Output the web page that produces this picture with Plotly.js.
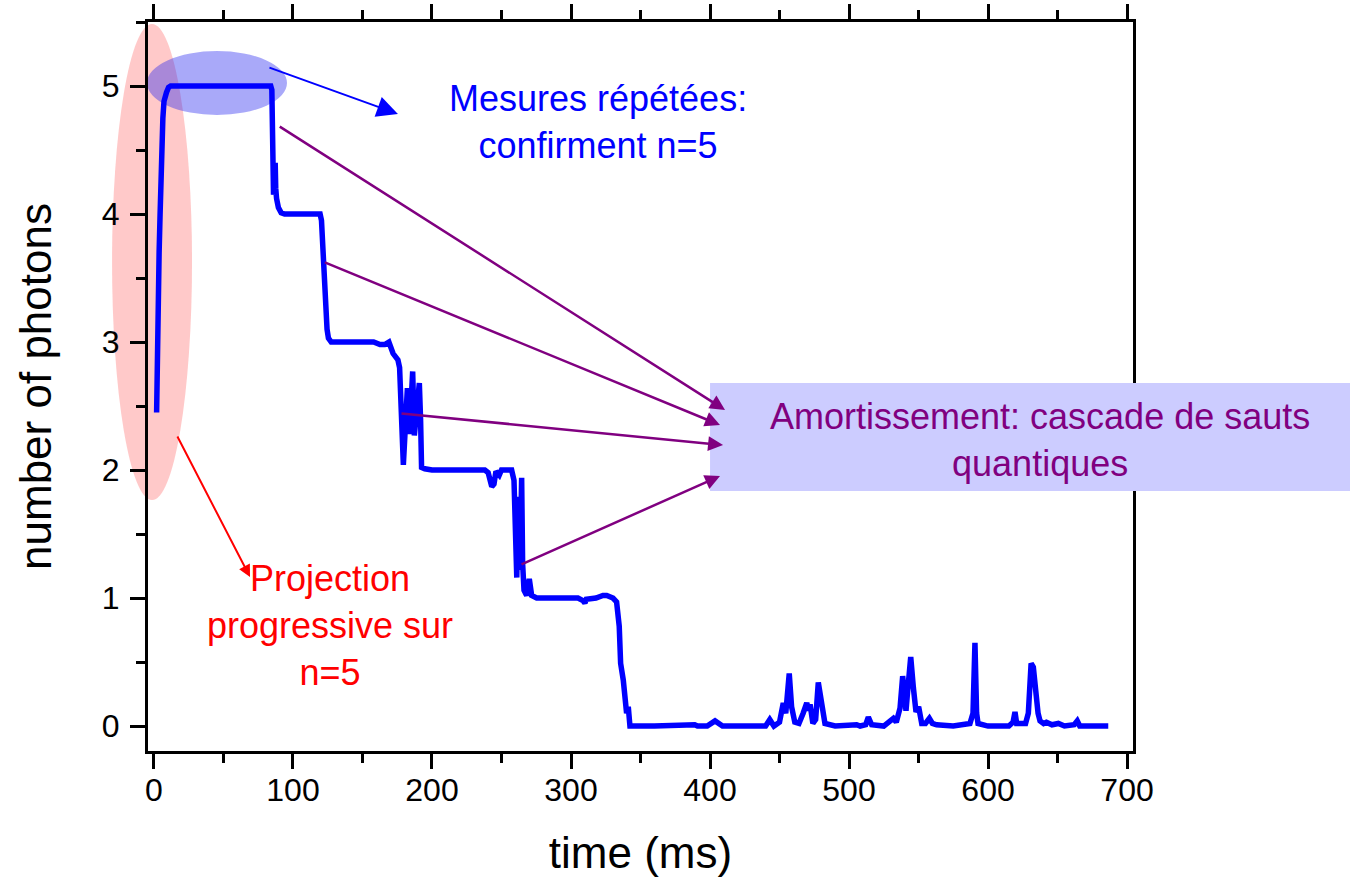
<!DOCTYPE html>
<html>
<head>
<meta charset="utf-8">
<script src="https://cdn.plot.ly/plotly-3.0.1.min.js"></script>
<style>
  html, body { margin: 0; padding: 0; background: #ffffff; }
  #chart { width: 1350px; height: 882px; }
</style>
</head>
<body>
<div id="chart"></div>
<script>
// Photon number in the cavity versus time (ms): projection onto n=5, then step-wise decay.
const time_ms = [
  1.9, 2.3, 2.8, 3.2, 3.7, 4.4, 5.0, 5.6, 6.4, 7.2, 8.0, 9.0, 10.5, 12.0,
  20, 30, 38, 45, 55, 64, 70, 78, 84.0,
  84.8, 85.2, 85.6, 86.0, 86.8, 87.2, 87.6, 88.2, 89.5, 91.5, 94,
  100, 108, 114, 119.5,
  120.5, 121.2, 121.8, 122.3, 122.8, 123.5, 124.5, 125.5, 127.5,
  135, 145, 152, 158, 162.6, 166, 169, 172, 175.5, 176.7,
  179.4, 180.6, 182.3, 183.8, 184.8, 186.1, 187.3, 189, 190.9, 191.8, 192.5, 194.8,
  200, 210, 220, 230, 238, 240.4, 243, 244.6, 246, 248.4, 250, 257.3,
  259, 261, 262.1, 263.3, 264.5, 265.2, 266.2, 268.1, 270, 271.7, 275.3,
  285, 295, 305, 308.6, 310, 311, 318, 323, 325.7, 330.2,
  332.8, 334.7, 335.7, 337.6, 338.8, 340, 341.2, 342.4,
  360, 380.6, 382, 389, 391, 398, 403.6, 409, 440, 443, 446,
  450, 452.7, 454.5, 457, 458.7, 461, 464, 467, 469.6, 471, 472, 474,
  476, 477.9, 480.4, 482.7, 490, 505.5, 508, 512, 513.9, 516.3, 525,
  531.9, 534, 536.7, 538.6, 540, 541, 542.4, 544.4, 546.3, 548.2, 550.1,
  552.3, 555, 557.8, 560, 563, 575, 587, 589.2, 590.6, 591.8, 592.8,
  600, 615, 618, 619.4, 620.6, 627, 629, 631, 632.6, 634.5, 636, 637.4,
  640, 642, 646, 650.6, 655, 662, 664.2, 666, 686.5
];
const photons = [
  2.45, 2.9, 3.3, 3.4, 3.7, 4.0, 4.3, 4.5, 4.75, 4.88, 4.92, 4.95, 4.99, 5.0,
  5.0, 5.0, 5.01, 5.0, 5.0, 5.01, 5.0, 5.0, 5.0,
  4.97, 4.7, 4.3, 4.15, 4.25, 4.4, 4.2, 4.12, 4.05, 4.01, 4.0,
  4.0, 4.0, 4.0, 4.0,
  3.95, 3.8, 3.6, 3.7, 3.5, 3.3, 3.1, 3.03, 3.0,
  3.0, 3.0, 2.99, 3.0, 2.98, 2.98, 3.0, 2.91, 2.86, 2.8,
  2.04, 2.39, 2.64, 2.28, 2.52, 2.77, 2.27, 2.52, 2.68, 2.39, 2.02, 2.01,
  2.0, 2.0, 2.0, 2.0, 2.0, 1.98, 1.87, 1.89, 1.99, 1.96, 2.0, 2.0,
  1.92, 1.16, 1.79, 1.22, 1.94, 1.27, 1.06, 1.02, 1.15, 1.02, 1.0,
  1.0, 1.0, 1.0, 0.98, 0.96, 0.99, 1.0, 1.02, 1.02, 1.0,
  0.97, 0.78, 0.49, 0.36, 0.18, 0.1, 0.15, 0.0,
  0.0, 0.01, 0.0, 0.01, 0.0, 0.0, 0.04, 0.0, 0.0, 0.05, 0.0,
  0.03, 0.18, 0.1, 0.41, 0.15, 0.03, 0.02, 0.1, 0.18, 0.12, 0.17, 0.02,
  0.05, 0.34, 0.2, 0.02, 0.0, 0.01, 0.0, 0.01, 0.07, 0.01, 0.0,
  0.06, 0.03, 0.14, 0.39, 0.22, 0.12, 0.3, 0.54, 0.3, 0.11, 0.15,
  0.02, 0.02, 0.06, 0.02, 0.01, 0.0, 0.02, 0.1, 0.65, 0.1, 0.02,
  0.0, 0.0, 0.03, 0.11, 0.02, 0.02, 0.1, 0.49, 0.46, 0.25, 0.1, 0.04,
  0.02, 0.03, 0.01, 0.02, 0.0, 0.01, 0.04, 0.0, 0.0
];
const xTicks = [0, 100, 200, 300, 400, 500, 600, 700];
const yTicks = [0, 1, 2, 3, 4, 5];

const FONT = 'Liberation Sans, Arial, Helvetica, sans-serif';
const BLUE = '#0000ff';
const RED = '#ff0000';
const PURPLE = '#800080';

const trace = {
  x: time_ms,
  y: photons,
  type: 'scatter',
  mode: 'lines',
  line: { color: BLUE, width: 5.5 },
  hoverinfo: 'x+y'
};

// Arrow helper: head at (x, y), tail at (ax, ay), both in data units.
function arrow(x, y, ax, ay, color, width, size) {
  return {
    x: x, y: y, ax: ax, ay: ay,
    xref: 'x', yref: 'y', axref: 'x', ayref: 'y',
    text: '', showarrow: true,
    arrowhead: 2, arrowsize: size, arrowwidth: width, arrowcolor: color,
    standoff: 0, startstandoff: 0
  };
}

function label(text, x, y, color) {
  return {
    text: text, x: x, y: y, xref: 'paper', yref: 'paper',
    xanchor: 'center', yanchor: 'middle', showarrow: false, align: 'center',
    font: { family: FONT, size: 36, color: color }
  };
}

const axisCommon = {
  showgrid: false, zeroline: false,
  showline: true, linecolor: '#000000', linewidth: 3,
  ticks: 'outside', ticklen: 15, tickwidth: 3, tickcolor: '#000000',
  tickfont: { family: FONT, size: 32, color: '#000000' }
};

const layout = {
  width: 1350, height: 882,
  margin: { l: 148, r: 217, t: 22, b: 131, pad: 0 },
  paper_bgcolor: '#ffffff', plot_bgcolor: '#ffffff',
  showlegend: false,
  xaxis: Object.assign({}, axisCommon, {
    range: [-4.3, 704.3], tickvals: xTicks, mirror: 'ticks',
    ticklabelstandoff: -6,
    minor: { dtick: 50, tick0: 0, ticks: 'outside', ticklen: 9, tickwidth: 3, tickcolor: '#000000', showgrid: false },
    title: { text: 'time (ms)', font: { family: FONT, size: 44, color: '#000000' }, standoff: 30 }
  }),
  yaxis: Object.assign({}, axisCommon, {
    range: [-0.195, 5.5], tickvals: yTicks, mirror: true,
    ticklabelstandoff: 4,
    minor: { dtick: 0.5, tick0: 0, ticks: 'outside', ticklen: 9, tickwidth: 3, tickcolor: '#000000', showgrid: false },
    title: { text: 'number of photons', font: { family: FONT, size: 44, color: '#000000' }, standoff: 37 }
  }),
  shapes: [
    // red ellipse around the initial projection
    { type: 'circle', xref: 'paper', yref: 'paper', x0: -0.0365, x1: 0.0447, y0: 0.3443, y1: 0.9973,
      fillcolor: 'rgba(255,60,60,0.28)', line: { width: 0 }, layer: 'below' },
    // blue ellipse around the n=5 plateau
    { type: 'circle', xref: 'paper', yref: 'paper', x0: -0.001, x1: 0.1411, y0: 0.8724, y1: 0.9602,
      fillcolor: 'rgba(40,40,240,0.40)', line: { width: 0 }, layer: 'below' },
    // caption box for the decay cascade
    { type: 'rect', xref: 'paper', yref: 'paper', x0: 0.5706, x1: 1.2203, y0: 0.3567, y1: 0.5048,
      fillcolor: '#ccccff', line: { width: 0 }, layer: 'above' }
  ],
  annotations: [
    arrow(175.5, 4.781, 82.0, 5.148, BLUE, 2, 2.1),
    arrow(69.1, 1.164, 16.3, 2.273, RED, 2, 1.2),
    arrow(410.8, 2.469, 89.4, 4.690, PURPLE, 2.5, 1.2),
    arrow(407.2, 2.352, 121.8, 3.627, PURPLE, 2.5, 1.2),
    arrow(409.4, 2.195, 177.0, 2.443, PURPLE, 2.5, 1.2),
    arrow(407.2, 1.953, 263.3, 1.258, PURPLE, 2.5, 1.2),
    label('Mesures répétées:<br>confirment n=5', 0.4569, 0.8628, BLUE),
    label('Projection<br>progressive sur<br>n=5', 0.1848, 0.1715, RED),
    label('Amortissement: cascade de sauts<br>quantiques', 0.9056, 0.4266, PURPLE)
  ]
};

Plotly.newPlot('chart', [trace], layout, { displayModeBar: false, staticPlot: true });
</script>
</body>
</html>
